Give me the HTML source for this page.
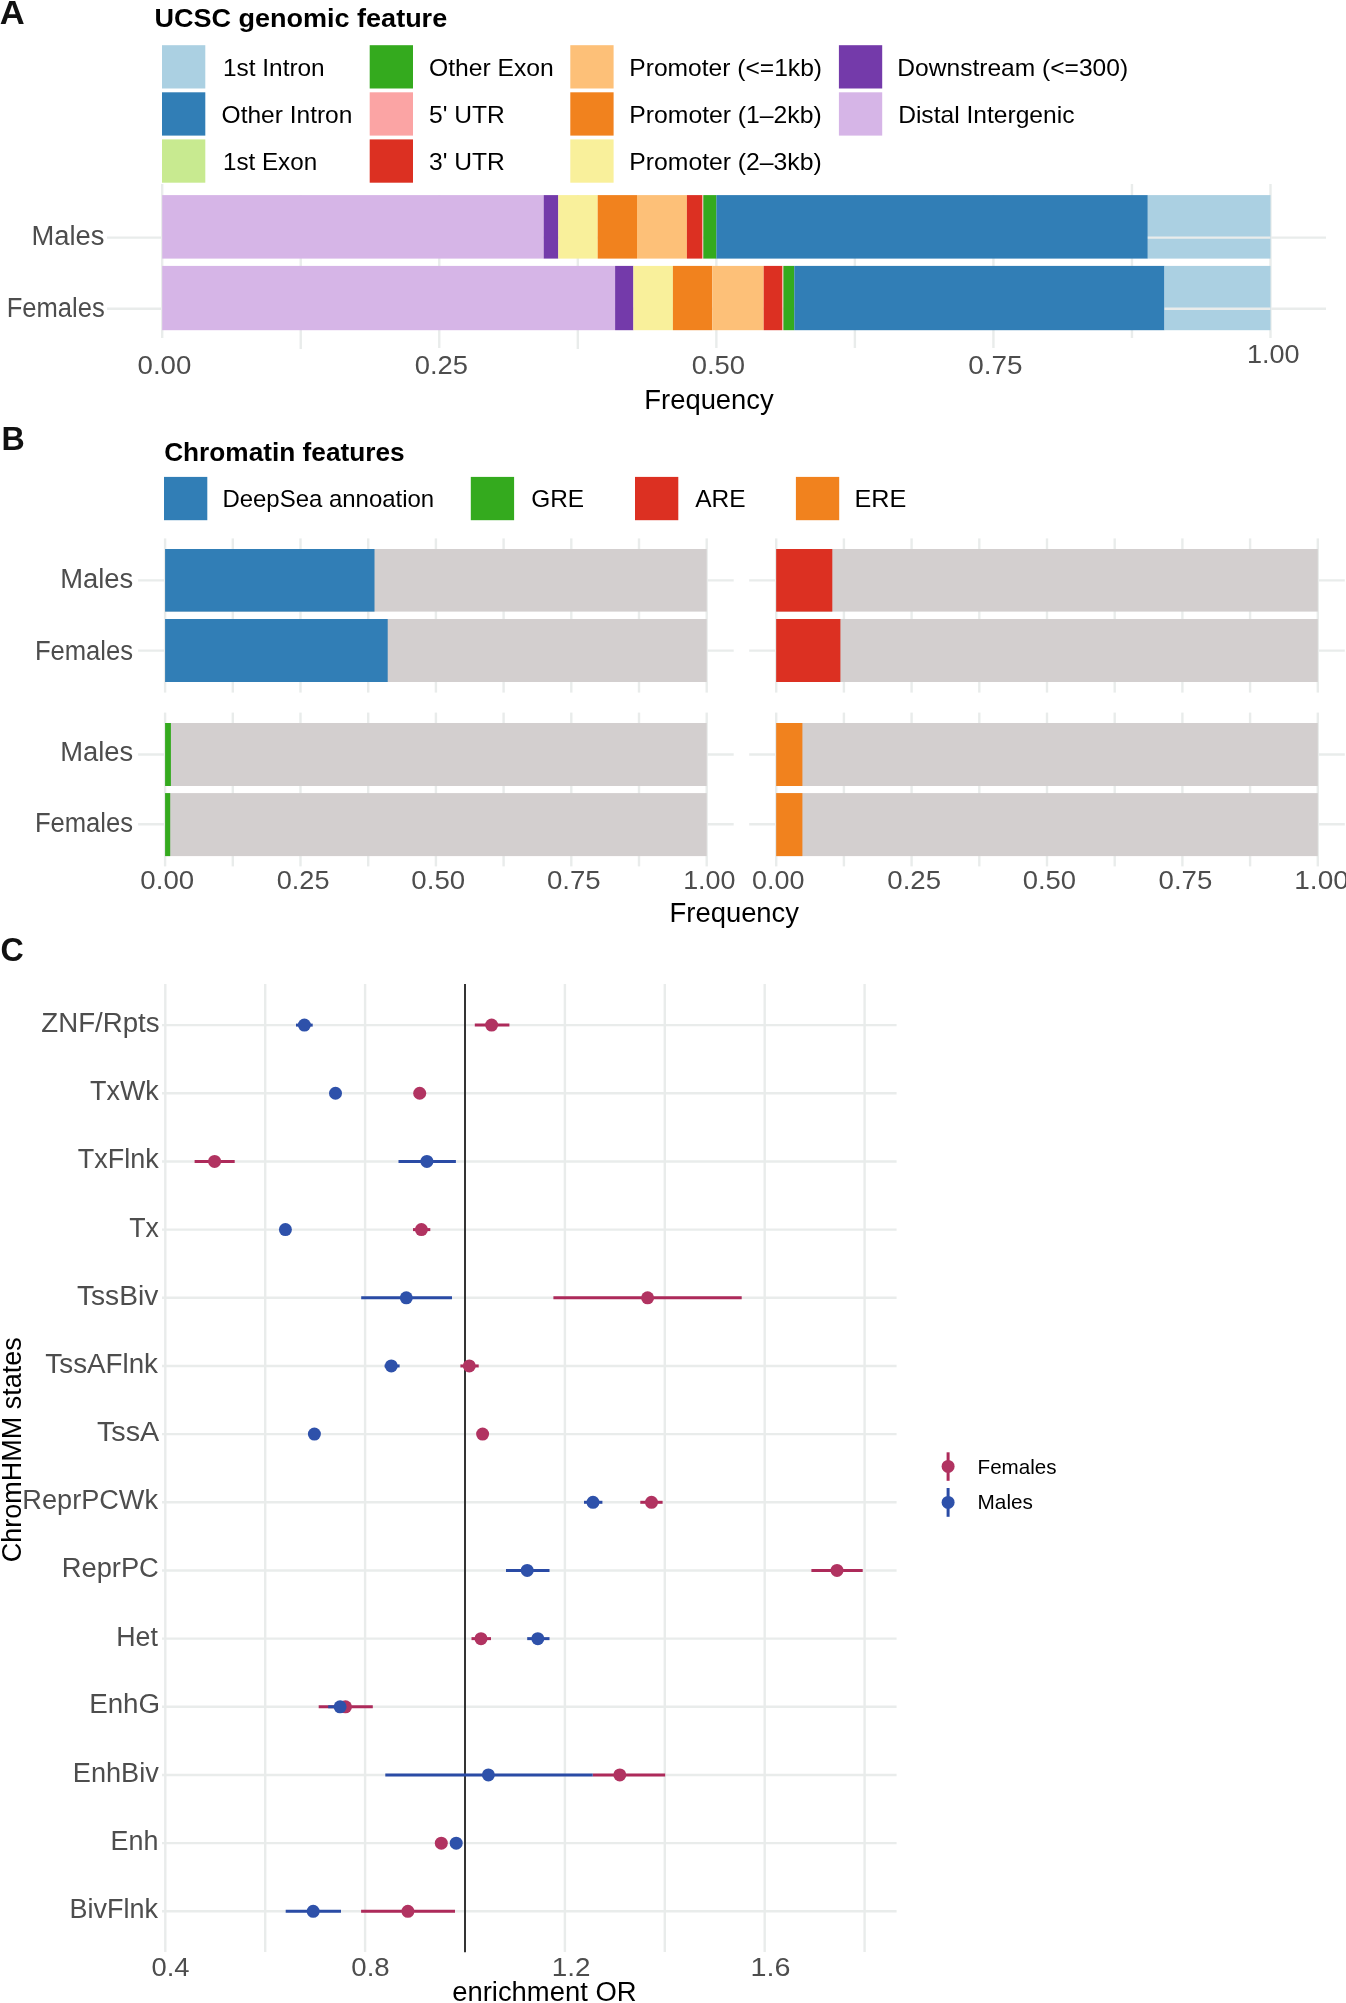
<!DOCTYPE html>
<html><head><meta charset="utf-8"><style>
html,body{margin:0;padding:0;background:#fff;}
svg{display:block;font-family:"Liberation Sans", sans-serif;will-change:transform;}
</style></head><body>
<svg width="1346" height="2003" viewBox="0 0 1346 2003">
<rect x="0" y="0" width="1346" height="2003" fill="#fff"/>
<rect x="162" y="45.2" width="43.3" height="43.3" fill="#ABD0E2"/>
<rect x="162" y="92.3" width="43.3" height="43.3" fill="#317EB6"/>
<rect x="162" y="139.4" width="43.3" height="43.3" fill="#C8EA90"/>
<rect x="369.7" y="45.2" width="43.3" height="43.3" fill="#34AA1E"/>
<rect x="369.7" y="92.3" width="43.3" height="43.3" fill="#FBA4A4"/>
<rect x="369.7" y="139.4" width="43.3" height="43.3" fill="#DC3022"/>
<rect x="570.3" y="45.2" width="43.3" height="43.3" fill="#FDC078"/>
<rect x="570.3" y="92.3" width="43.3" height="43.3" fill="#F1821E"/>
<rect x="570.3" y="139.4" width="43.3" height="43.3" fill="#F9F09B"/>
<rect x="838.9" y="45.2" width="43.3" height="43.3" fill="#743AAA"/>
<rect x="838.9" y="92.3" width="43.3" height="43.3" fill="#D6B5E7"/>
<line x1="162.2" y1="184" x2="162.2" y2="338" stroke="#E9ECEB" stroke-width="2.4"/>
<line x1="300.74" y1="195" x2="300.74" y2="349" stroke="#E9ECEB" stroke-width="2.4"/>
<line x1="439.27" y1="195" x2="439.27" y2="348" stroke="#E9ECEB" stroke-width="2.4"/>
<line x1="577.81" y1="195" x2="577.81" y2="349" stroke="#E9ECEB" stroke-width="2.4"/>
<line x1="716.35" y1="195" x2="716.35" y2="348" stroke="#E9ECEB" stroke-width="2.4"/>
<line x1="854.89" y1="195" x2="854.89" y2="348" stroke="#E9ECEB" stroke-width="2.4"/>
<line x1="993.42" y1="195" x2="993.42" y2="348" stroke="#E9ECEB" stroke-width="2.4"/>
<line x1="1131.96" y1="184" x2="1131.96" y2="338" stroke="#E9ECEB" stroke-width="2.4"/>
<line x1="1270.5" y1="184" x2="1270.5" y2="338" stroke="#E9ECEB" stroke-width="2.4"/>
<line x1="107" y1="237.6" x2="1326" y2="237.6" stroke="#E9ECEB" stroke-width="2.4"/>
<line x1="107" y1="308.7" x2="1326" y2="308.7" stroke="#E9ECEB" stroke-width="2.4"/>
<rect x="162.2" y="195.1" width="381.5" height="63.5" fill="#D6B5E7"/>
<rect x="543.7" y="195.1" width="14.6" height="63.5" fill="#743AAA"/>
<rect x="558.3" y="195.1" width="39.4" height="63.5" fill="#F9F09B"/>
<rect x="597.7" y="195.1" width="39.3" height="63.5" fill="#F1821E"/>
<rect x="637" y="195.1" width="49.9" height="63.5" fill="#FDC078"/>
<rect x="686.9" y="195.1" width="15.2" height="63.5" fill="#DC3022"/>
<rect x="702.1" y="195.1" width="1.2" height="63.5" fill="#FBA4A4"/>
<rect x="703.3" y="195.1" width="13.1" height="63.5" fill="#34AA1E"/>
<rect x="716.4" y="195.1" width="431.4" height="63.5" fill="#317EB6"/>
<rect x="1147.8" y="195.1" width="122.7" height="63.5" fill="#ABD0E2"/>
<rect x="162.2" y="265.9" width="452.9" height="64.3" fill="#D6B5E7"/>
<rect x="615.1" y="265.9" width="18.3" height="64.3" fill="#743AAA"/>
<rect x="633.4" y="265.9" width="39.5" height="64.3" fill="#F9F09B"/>
<rect x="672.9" y="265.9" width="39.4" height="64.3" fill="#F1821E"/>
<rect x="712.3" y="265.9" width="51.4" height="64.3" fill="#FDC078"/>
<rect x="763.7" y="265.9" width="18.5" height="64.3" fill="#DC3022"/>
<rect x="782.2" y="265.9" width="1.2" height="64.3" fill="#FBA4A4"/>
<rect x="783.4" y="265.9" width="10.9" height="64.3" fill="#34AA1E"/>
<rect x="794.3" y="265.9" width="370.2" height="64.3" fill="#317EB6"/>
<rect x="1164.5" y="265.9" width="106" height="64.3" fill="#ABD0E2"/>
<line x1="1147.8" y1="237.6" x2="1270.5" y2="237.6" stroke="#E9ECEB" stroke-width="2.4"/>
<line x1="1164.5" y1="308.7" x2="1270.5" y2="308.7" stroke="#E9ECEB" stroke-width="2.4"/>
<rect x="164" y="476.9" width="43.3" height="43.3" fill="#317EB6"/>
<rect x="470.8" y="476.9" width="43.3" height="43.3" fill="#34AA1E"/>
<rect x="635" y="476.9" width="43.3" height="43.3" fill="#DC3022"/>
<rect x="795.9" y="476.9" width="43.3" height="43.3" fill="#F1821E"/>
<line x1="165.1" y1="538.4" x2="165.1" y2="692.6" stroke="#E9ECEB" stroke-width="2.4"/>
<line x1="232.8" y1="538.4" x2="232.8" y2="692.6" stroke="#E9ECEB" stroke-width="2.4"/>
<line x1="300.5" y1="538.4" x2="300.5" y2="692.6" stroke="#E9ECEB" stroke-width="2.4"/>
<line x1="368.2" y1="538.4" x2="368.2" y2="692.6" stroke="#E9ECEB" stroke-width="2.4"/>
<line x1="435.9" y1="538.4" x2="435.9" y2="692.6" stroke="#E9ECEB" stroke-width="2.4"/>
<line x1="503.6" y1="538.4" x2="503.6" y2="692.6" stroke="#E9ECEB" stroke-width="2.4"/>
<line x1="571.3" y1="538.4" x2="571.3" y2="692.6" stroke="#E9ECEB" stroke-width="2.4"/>
<line x1="639" y1="538.4" x2="639" y2="692.6" stroke="#E9ECEB" stroke-width="2.4"/>
<line x1="706.7" y1="538.4" x2="706.7" y2="692.6" stroke="#E9ECEB" stroke-width="2.4"/>
<line x1="138.1" y1="580.4" x2="733.7" y2="580.4" stroke="#E9ECEB" stroke-width="2.4"/>
<line x1="138.1" y1="650.6" x2="733.7" y2="650.6" stroke="#E9ECEB" stroke-width="2.4"/>
<rect x="165.1" y="549" width="541.6" height="62.6" fill="#D3CFCF"/>
<rect x="165.1" y="619" width="541.6" height="63" fill="#D3CFCF"/>
<rect x="165.1" y="549" width="209.4" height="62.6" fill="#317EB6"/>
<rect x="165.1" y="619" width="222.6" height="63" fill="#317EB6"/>
<line x1="165.1" y1="712.6" x2="165.1" y2="866.4" stroke="#E9ECEB" stroke-width="2.4"/>
<line x1="232.8" y1="712.6" x2="232.8" y2="866.4" stroke="#E9ECEB" stroke-width="2.4"/>
<line x1="300.5" y1="712.6" x2="300.5" y2="866.4" stroke="#E9ECEB" stroke-width="2.4"/>
<line x1="368.2" y1="712.6" x2="368.2" y2="866.4" stroke="#E9ECEB" stroke-width="2.4"/>
<line x1="435.9" y1="712.6" x2="435.9" y2="866.4" stroke="#E9ECEB" stroke-width="2.4"/>
<line x1="503.6" y1="712.6" x2="503.6" y2="866.4" stroke="#E9ECEB" stroke-width="2.4"/>
<line x1="571.3" y1="712.6" x2="571.3" y2="866.4" stroke="#E9ECEB" stroke-width="2.4"/>
<line x1="639" y1="712.6" x2="639" y2="866.4" stroke="#E9ECEB" stroke-width="2.4"/>
<line x1="706.7" y1="712.6" x2="706.7" y2="866.4" stroke="#E9ECEB" stroke-width="2.4"/>
<line x1="138.1" y1="754.5" x2="733.7" y2="754.5" stroke="#E9ECEB" stroke-width="2.4"/>
<line x1="138.1" y1="824.3" x2="733.7" y2="824.3" stroke="#E9ECEB" stroke-width="2.4"/>
<rect x="165.1" y="723" width="541.6" height="63" fill="#D3CFCF"/>
<rect x="165.1" y="793.1" width="541.6" height="63" fill="#D3CFCF"/>
<rect x="165.1" y="723" width="5.8" height="63" fill="#34AA1E"/>
<rect x="165.1" y="793.1" width="5.1" height="63" fill="#34AA1E"/>
<line x1="776.2" y1="538.4" x2="776.2" y2="692.6" stroke="#E9ECEB" stroke-width="2.4"/>
<line x1="843.9" y1="538.4" x2="843.9" y2="692.6" stroke="#E9ECEB" stroke-width="2.4"/>
<line x1="911.6" y1="538.4" x2="911.6" y2="692.6" stroke="#E9ECEB" stroke-width="2.4"/>
<line x1="979.3" y1="538.4" x2="979.3" y2="692.6" stroke="#E9ECEB" stroke-width="2.4"/>
<line x1="1047" y1="538.4" x2="1047" y2="692.6" stroke="#E9ECEB" stroke-width="2.4"/>
<line x1="1114.7" y1="538.4" x2="1114.7" y2="692.6" stroke="#E9ECEB" stroke-width="2.4"/>
<line x1="1182.4" y1="538.4" x2="1182.4" y2="692.6" stroke="#E9ECEB" stroke-width="2.4"/>
<line x1="1250.1" y1="538.4" x2="1250.1" y2="692.6" stroke="#E9ECEB" stroke-width="2.4"/>
<line x1="1317.8" y1="538.4" x2="1317.8" y2="692.6" stroke="#E9ECEB" stroke-width="2.4"/>
<line x1="749.2" y1="580.4" x2="1344.8" y2="580.4" stroke="#E9ECEB" stroke-width="2.4"/>
<line x1="749.2" y1="650.6" x2="1344.8" y2="650.6" stroke="#E9ECEB" stroke-width="2.4"/>
<rect x="776.2" y="549" width="541.6" height="62.6" fill="#D3CFCF"/>
<rect x="776.2" y="619" width="541.6" height="63" fill="#D3CFCF"/>
<rect x="776.2" y="549" width="56.1" height="62.6" fill="#DC3022"/>
<rect x="776.2" y="619" width="64.2" height="63" fill="#DC3022"/>
<line x1="776.2" y1="712.6" x2="776.2" y2="866.4" stroke="#E9ECEB" stroke-width="2.4"/>
<line x1="843.9" y1="712.6" x2="843.9" y2="866.4" stroke="#E9ECEB" stroke-width="2.4"/>
<line x1="911.6" y1="712.6" x2="911.6" y2="866.4" stroke="#E9ECEB" stroke-width="2.4"/>
<line x1="979.3" y1="712.6" x2="979.3" y2="866.4" stroke="#E9ECEB" stroke-width="2.4"/>
<line x1="1047" y1="712.6" x2="1047" y2="866.4" stroke="#E9ECEB" stroke-width="2.4"/>
<line x1="1114.7" y1="712.6" x2="1114.7" y2="866.4" stroke="#E9ECEB" stroke-width="2.4"/>
<line x1="1182.4" y1="712.6" x2="1182.4" y2="866.4" stroke="#E9ECEB" stroke-width="2.4"/>
<line x1="1250.1" y1="712.6" x2="1250.1" y2="866.4" stroke="#E9ECEB" stroke-width="2.4"/>
<line x1="1317.8" y1="712.6" x2="1317.8" y2="866.4" stroke="#E9ECEB" stroke-width="2.4"/>
<line x1="749.2" y1="754.5" x2="1344.8" y2="754.5" stroke="#E9ECEB" stroke-width="2.4"/>
<line x1="749.2" y1="824.3" x2="1344.8" y2="824.3" stroke="#E9ECEB" stroke-width="2.4"/>
<rect x="776.2" y="723" width="541.6" height="63" fill="#D3CFCF"/>
<rect x="776.2" y="793.1" width="541.6" height="63" fill="#D3CFCF"/>
<rect x="776.2" y="723" width="26.2" height="63" fill="#F1821E"/>
<rect x="776.2" y="793.1" width="26.2" height="63" fill="#F1821E"/>
<line x1="165.3" y1="984" x2="165.3" y2="1952" stroke="#E9ECEB" stroke-width="2.4"/>
<line x1="265.2" y1="984" x2="265.2" y2="1952" stroke="#E9ECEB" stroke-width="2.4"/>
<line x1="365.1" y1="984" x2="365.1" y2="1952" stroke="#E9ECEB" stroke-width="2.4"/>
<line x1="564.9" y1="984" x2="564.9" y2="1952" stroke="#E9ECEB" stroke-width="2.4"/>
<line x1="664.8" y1="984" x2="664.8" y2="1952" stroke="#E9ECEB" stroke-width="2.4"/>
<line x1="764.7" y1="984" x2="764.7" y2="1952" stroke="#E9ECEB" stroke-width="2.4"/>
<line x1="864.6" y1="984" x2="864.6" y2="1952" stroke="#E9ECEB" stroke-width="2.4"/>
<line x1="162" y1="1025.1" x2="896.6" y2="1025.1" stroke="#E9ECEB" stroke-width="2.4"/>
<line x1="162" y1="1093.27" x2="896.6" y2="1093.27" stroke="#E9ECEB" stroke-width="2.4"/>
<line x1="162" y1="1161.44" x2="896.6" y2="1161.44" stroke="#E9ECEB" stroke-width="2.4"/>
<line x1="162" y1="1229.61" x2="896.6" y2="1229.61" stroke="#E9ECEB" stroke-width="2.4"/>
<line x1="162" y1="1297.78" x2="896.6" y2="1297.78" stroke="#E9ECEB" stroke-width="2.4"/>
<line x1="162" y1="1365.95" x2="896.6" y2="1365.95" stroke="#E9ECEB" stroke-width="2.4"/>
<line x1="162" y1="1434.12" x2="896.6" y2="1434.12" stroke="#E9ECEB" stroke-width="2.4"/>
<line x1="162" y1="1502.29" x2="896.6" y2="1502.29" stroke="#E9ECEB" stroke-width="2.4"/>
<line x1="162" y1="1570.46" x2="896.6" y2="1570.46" stroke="#E9ECEB" stroke-width="2.4"/>
<line x1="162" y1="1638.63" x2="896.6" y2="1638.63" stroke="#E9ECEB" stroke-width="2.4"/>
<line x1="162" y1="1706.8" x2="896.6" y2="1706.8" stroke="#E9ECEB" stroke-width="2.4"/>
<line x1="162" y1="1774.97" x2="896.6" y2="1774.97" stroke="#E9ECEB" stroke-width="2.4"/>
<line x1="162" y1="1843.14" x2="896.6" y2="1843.14" stroke="#E9ECEB" stroke-width="2.4"/>
<line x1="162" y1="1911.31" x2="896.6" y2="1911.31" stroke="#E9ECEB" stroke-width="2.4"/>
<line x1="465" y1="984" x2="465" y2="1952.3" stroke="#2A2A2A" stroke-width="1.9"/>
<line x1="474.8" y1="1025.1" x2="509.4" y2="1025.1" stroke="#AD2A5A" stroke-width="3.0"/>
<line x1="296" y1="1025.1" x2="312.7" y2="1025.1" stroke="#2A4BA5" stroke-width="3.0"/>
<circle cx="491.6" cy="1025.1" r="6.5" fill="#B13361"/>
<circle cx="304.4" cy="1025.1" r="6.5" fill="#2E51AA"/>
<circle cx="419.7" cy="1093.27" r="6.5" fill="#B13361"/>
<circle cx="335.5" cy="1093.27" r="6.5" fill="#2E51AA"/>
<line x1="194.6" y1="1161.44" x2="234.7" y2="1161.44" stroke="#AD2A5A" stroke-width="3.0"/>
<line x1="398.5" y1="1161.44" x2="455.9" y2="1161.44" stroke="#2A4BA5" stroke-width="3.0"/>
<circle cx="214.6" cy="1161.44" r="6.5" fill="#B13361"/>
<circle cx="426.9" cy="1161.44" r="6.5" fill="#2E51AA"/>
<line x1="413" y1="1229.61" x2="430.3" y2="1229.61" stroke="#AD2A5A" stroke-width="3.0"/>
<circle cx="421.4" cy="1229.61" r="6.5" fill="#B13361"/>
<circle cx="285.4" cy="1229.61" r="6.5" fill="#2E51AA"/>
<line x1="553.4" y1="1297.78" x2="741.7" y2="1297.78" stroke="#AD2A5A" stroke-width="3.0"/>
<line x1="361.2" y1="1297.78" x2="452" y2="1297.78" stroke="#2A4BA5" stroke-width="3.0"/>
<circle cx="647.6" cy="1297.78" r="6.5" fill="#B13361"/>
<circle cx="406.3" cy="1297.78" r="6.5" fill="#2E51AA"/>
<line x1="460.4" y1="1365.95" x2="478.7" y2="1365.95" stroke="#AD2A5A" stroke-width="3.0"/>
<line x1="384.6" y1="1365.95" x2="399.6" y2="1365.95" stroke="#2A4BA5" stroke-width="3.0"/>
<circle cx="469.3" cy="1365.95" r="6.5" fill="#B13361"/>
<circle cx="391.3" cy="1365.95" r="6.5" fill="#2E51AA"/>
<circle cx="482.6" cy="1434.12" r="6.5" fill="#B13361"/>
<circle cx="314.4" cy="1434.12" r="6.5" fill="#2E51AA"/>
<line x1="640.3" y1="1502.29" x2="662.6" y2="1502.29" stroke="#AD2A5A" stroke-width="3.0"/>
<line x1="584" y1="1502.29" x2="602.4" y2="1502.29" stroke="#2A4BA5" stroke-width="3.0"/>
<circle cx="651.5" cy="1502.29" r="6.5" fill="#B13361"/>
<circle cx="593" cy="1502.29" r="6.5" fill="#2E51AA"/>
<line x1="811.4" y1="1570.46" x2="862.7" y2="1570.46" stroke="#AD2A5A" stroke-width="3.0"/>
<line x1="506" y1="1570.46" x2="549.5" y2="1570.46" stroke="#2A4BA5" stroke-width="3.0"/>
<circle cx="837" cy="1570.46" r="6.5" fill="#B13361"/>
<circle cx="527.2" cy="1570.46" r="6.5" fill="#2E51AA"/>
<line x1="471.5" y1="1638.63" x2="491" y2="1638.63" stroke="#AD2A5A" stroke-width="3.0"/>
<line x1="527.2" y1="1638.63" x2="549.5" y2="1638.63" stroke="#2A4BA5" stroke-width="3.0"/>
<circle cx="481" cy="1638.63" r="6.5" fill="#B13361"/>
<circle cx="537.8" cy="1638.63" r="6.5" fill="#2E51AA"/>
<line x1="318.7" y1="1706.8" x2="372.8" y2="1706.8" stroke="#AD2A5A" stroke-width="3.0"/>
<line x1="328.2" y1="1706.8" x2="350" y2="1706.8" stroke="#2A4BA5" stroke-width="3.0"/>
<circle cx="345.5" cy="1706.8" r="6.5" fill="#B13361"/>
<circle cx="340.1" cy="1706.8" r="6.5" fill="#2E51AA"/>
<line x1="592.7" y1="1774.97" x2="665.2" y2="1774.97" stroke="#AD2A5A" stroke-width="3.0"/>
<line x1="385.3" y1="1774.97" x2="592.7" y2="1774.97" stroke="#2A4BA5" stroke-width="3.0"/>
<circle cx="619.8" cy="1774.97" r="6.5" fill="#B13361"/>
<circle cx="488.4" cy="1774.97" r="6.5" fill="#2E51AA"/>
<circle cx="441.3" cy="1843.14" r="6.5" fill="#B13361"/>
<circle cx="456.2" cy="1843.14" r="6.5" fill="#2E51AA"/>
<line x1="361.1" y1="1911.31" x2="455" y2="1911.31" stroke="#AD2A5A" stroke-width="3.0"/>
<line x1="285.7" y1="1911.31" x2="341" y2="1911.31" stroke="#2A4BA5" stroke-width="3.0"/>
<circle cx="407.9" cy="1911.31" r="6.5" fill="#B13361"/>
<circle cx="313.2" cy="1911.31" r="6.5" fill="#2E51AA"/>
<line x1="948.1" y1="1452.3" x2="948.1" y2="1480.8" stroke="#AD2A5A" stroke-width="3.0"/>
<circle cx="948.1" cy="1466.4" r="6.5" fill="#B13361"/>
<line x1="948.1" y1="1488" x2="948.1" y2="1516.8" stroke="#2A4BA5" stroke-width="3.0"/>
<circle cx="948.1" cy="1502.4" r="6.5" fill="#2E51AA"/>
<text x="0" y="0" font-size="27" fill="#000" text-anchor="middle" transform="translate(20.5,1449.7) rotate(-90)">ChromHMM states</text>
<text x="-0.27" y="23.6" font-size="32.5" fill="#111" font-weight="bold" textLength="24.98" lengthAdjust="spacingAndGlyphs">A</text>
<text x="154.53" y="27.2" font-size="25.5" fill="#000" font-weight="bold" textLength="292.65" lengthAdjust="spacingAndGlyphs">UCSC genomic feature</text>
<text x="222.98" y="75.9" font-size="24" fill="#000" textLength="101.71" lengthAdjust="spacingAndGlyphs">1st Intron</text>
<text x="221.57" y="123.0" font-size="24" fill="#000" textLength="130.81" lengthAdjust="spacingAndGlyphs">Other Intron</text>
<text x="222.99" y="170.1" font-size="24" fill="#000" textLength="94.11" lengthAdjust="spacingAndGlyphs">1st Exon</text>
<text x="428.97" y="75.9" font-size="24" fill="#000" textLength="124.87" lengthAdjust="spacingAndGlyphs">Other Exon</text>
<text x="428.98" y="123.0" font-size="24" fill="#000" textLength="75.77" lengthAdjust="spacingAndGlyphs">5' UTR</text>
<text x="428.98" y="170.1" font-size="24" fill="#000" textLength="75.77" lengthAdjust="spacingAndGlyphs">3' UTR</text>
<text x="629.34" y="75.8" font-size="24" fill="#000" textLength="192.68" lengthAdjust="spacingAndGlyphs">Promoter (&lt;=1kb)</text>
<text x="629.33" y="122.8" font-size="24" fill="#000" textLength="192.36" lengthAdjust="spacingAndGlyphs">Promoter (1–2kb)</text>
<text x="629.33" y="169.9" font-size="24" fill="#000" textLength="192.36" lengthAdjust="spacingAndGlyphs">Promoter (2–3kb)</text>
<text x="897.35" y="75.8" font-size="24" fill="#000" textLength="230.72" lengthAdjust="spacingAndGlyphs">Downstream (&lt;=300)</text>
<text x="898.15" y="122.6" font-size="24" fill="#000" textLength="176.33" lengthAdjust="spacingAndGlyphs">Distal Intergenic</text>
<text x="31.56" y="245.3" font-size="26.8" fill="#4D4D4D" textLength="72.93" lengthAdjust="spacingAndGlyphs">Males</text>
<text x="6.70" y="316.7" font-size="26.8" fill="#4D4D4D" textLength="98.04" lengthAdjust="spacingAndGlyphs">Females</text>
<text x="137.54" y="374.1" font-size="26.3" fill="#4D4D4D" textLength="53.80" lengthAdjust="spacingAndGlyphs">0.00</text>
<text x="414.78" y="374.3" font-size="26.3" fill="#4D4D4D" textLength="53.23" lengthAdjust="spacingAndGlyphs">0.25</text>
<text x="691.75" y="374.4" font-size="26.3" fill="#4D4D4D" textLength="53.38" lengthAdjust="spacingAndGlyphs">0.50</text>
<text x="968.32" y="374.4" font-size="26.3" fill="#4D4D4D" textLength="54.32" lengthAdjust="spacingAndGlyphs">0.75</text>
<text x="1246.95" y="363.4" font-size="26.3" fill="#4D4D4D" textLength="52.57" lengthAdjust="spacingAndGlyphs">1.00</text>
<text x="644.35" y="408.7" font-size="26.8" fill="#000" textLength="129.37" lengthAdjust="spacingAndGlyphs">Frequency</text>
<text x="1.62" y="449.9" font-size="32.5" fill="#111" font-weight="bold" textLength="23.25" lengthAdjust="spacingAndGlyphs">B</text>
<text x="164.17" y="461.0" font-size="25.5" fill="#000" font-weight="bold" textLength="240.45" lengthAdjust="spacingAndGlyphs">Chromatin features</text>
<text x="222.40" y="507.4" font-size="24" fill="#000" textLength="211.78" lengthAdjust="spacingAndGlyphs">DeepSea annoation</text>
<text x="531.18" y="507.4" font-size="24" fill="#000" textLength="52.95" lengthAdjust="spacingAndGlyphs">GRE</text>
<text x="695.19" y="507.4" font-size="24" fill="#000" textLength="50.39" lengthAdjust="spacingAndGlyphs">ARE</text>
<text x="854.49" y="507.4" font-size="24" fill="#000" textLength="51.83" lengthAdjust="spacingAndGlyphs">ERE</text>
<text x="60.16" y="588.1" font-size="26.8" fill="#4D4D4D" textLength="72.93" lengthAdjust="spacingAndGlyphs">Males</text>
<text x="34.89" y="659.6" font-size="26.8" fill="#4D4D4D" textLength="98.24" lengthAdjust="spacingAndGlyphs">Females</text>
<text x="60.16" y="761.2" font-size="26.8" fill="#4D4D4D" textLength="72.93" lengthAdjust="spacingAndGlyphs">Males</text>
<text x="34.89" y="832.4" font-size="26.8" fill="#4D4D4D" textLength="98.24" lengthAdjust="spacingAndGlyphs">Females</text>
<text x="140.33" y="889.2" font-size="26.3" fill="#4D4D4D" textLength="53.80" lengthAdjust="spacingAndGlyphs">0.00</text>
<text x="276.78" y="889.2" font-size="26.3" fill="#4D4D4D" textLength="52.72" lengthAdjust="spacingAndGlyphs">0.25</text>
<text x="411.33" y="889.2" font-size="26.3" fill="#4D4D4D" textLength="53.80" lengthAdjust="spacingAndGlyphs">0.50</text>
<text x="546.95" y="889.2" font-size="26.3" fill="#4D4D4D" textLength="53.80" lengthAdjust="spacingAndGlyphs">0.75</text>
<text x="683.17" y="889.2" font-size="26.3" fill="#4D4D4D" textLength="52.34" lengthAdjust="spacingAndGlyphs">1.00</text>
<text x="751.98" y="889.2" font-size="26.3" fill="#4D4D4D" textLength="52.44" lengthAdjust="spacingAndGlyphs">0.00</text>
<text x="887.36" y="889.2" font-size="26.3" fill="#4D4D4D" textLength="53.69" lengthAdjust="spacingAndGlyphs">0.25</text>
<text x="1022.75" y="889.2" font-size="26.3" fill="#4D4D4D" textLength="53.38" lengthAdjust="spacingAndGlyphs">0.50</text>
<text x="1158.56" y="889.2" font-size="26.3" fill="#4D4D4D" textLength="53.80" lengthAdjust="spacingAndGlyphs">0.75</text>
<text x="1294.25" y="889.2" font-size="26.3" fill="#4D4D4D" textLength="54.56" lengthAdjust="spacingAndGlyphs">1.00</text>
<text x="669.55" y="922.3" font-size="26.8" fill="#000" textLength="129.47" lengthAdjust="spacingAndGlyphs">Frequency</text>
<text x="0.42" y="961.3" font-size="32.5" fill="#111" font-weight="bold" textLength="23.26" lengthAdjust="spacingAndGlyphs">C</text>
<text x="41.37" y="1032.2" font-size="27" fill="#4D4D4D" textLength="118.17" lengthAdjust="spacingAndGlyphs">ZNF/Rpts</text>
<text x="90.00" y="1099.8" font-size="27" fill="#4D4D4D" textLength="68.78" lengthAdjust="spacingAndGlyphs">TxWk</text>
<text x="77.80" y="1168.2" font-size="27" fill="#4D4D4D" textLength="80.90" lengthAdjust="spacingAndGlyphs">TxFlnk</text>
<text x="129.20" y="1236.5" font-size="27" fill="#4D4D4D" textLength="29.69" lengthAdjust="spacingAndGlyphs">Tx</text>
<text x="76.96" y="1304.7" font-size="27" fill="#4D4D4D" textLength="81.36" lengthAdjust="spacingAndGlyphs">TssBiv</text>
<text x="45.38" y="1373.0" font-size="27" fill="#4D4D4D" textLength="112.65" lengthAdjust="spacingAndGlyphs">TssAFlnk</text>
<text x="96.93" y="1440.7" font-size="27" fill="#4D4D4D" textLength="62.42" lengthAdjust="spacingAndGlyphs">TssA</text>
<text x="22.39" y="1509.0" font-size="27" fill="#4D4D4D" textLength="135.62" lengthAdjust="spacingAndGlyphs">ReprPCWk</text>
<text x="61.78" y="1577.2" font-size="27" fill="#4D4D4D" textLength="97.06" lengthAdjust="spacingAndGlyphs">ReprPC</text>
<text x="116.22" y="1645.5" font-size="27" fill="#4D4D4D" textLength="41.72" lengthAdjust="spacingAndGlyphs">Het</text>
<text x="89.15" y="1713.2" font-size="27" fill="#4D4D4D" textLength="70.96" lengthAdjust="spacingAndGlyphs">EnhG</text>
<text x="72.79" y="1781.5" font-size="27" fill="#4D4D4D" textLength="85.97" lengthAdjust="spacingAndGlyphs">EnhBiv</text>
<text x="110.61" y="1849.9" font-size="27" fill="#4D4D4D" textLength="47.83" lengthAdjust="spacingAndGlyphs">Enh</text>
<text x="69.60" y="1917.9" font-size="27" fill="#4D4D4D" textLength="88.41" lengthAdjust="spacingAndGlyphs">BivFlnk</text>
<text x="151.57" y="1975.6" font-size="26.3" fill="#4D4D4D" textLength="38.02" lengthAdjust="spacingAndGlyphs">0.4</text>
<text x="351.36" y="1975.6" font-size="26.3" fill="#4D4D4D" textLength="38.34" lengthAdjust="spacingAndGlyphs">0.8</text>
<text x="551.71" y="1975.6" font-size="26.3" fill="#4D4D4D" textLength="38.71" lengthAdjust="spacingAndGlyphs">1.2</text>
<text x="750.61" y="1975.6" font-size="26.3" fill="#4D4D4D" textLength="39.89" lengthAdjust="spacingAndGlyphs">1.6</text>
<text x="452.19" y="2001.4" font-size="27" fill="#000" textLength="184.32" lengthAdjust="spacingAndGlyphs">enrichment OR</text>
<text x="977.58" y="1473.5" font-size="20.3" fill="#000" textLength="79.01" lengthAdjust="spacingAndGlyphs">Females</text>
<text x="977.57" y="1509.3" font-size="20.3" fill="#000" textLength="55.36" lengthAdjust="spacingAndGlyphs">Males</text>
</svg></body></html>
